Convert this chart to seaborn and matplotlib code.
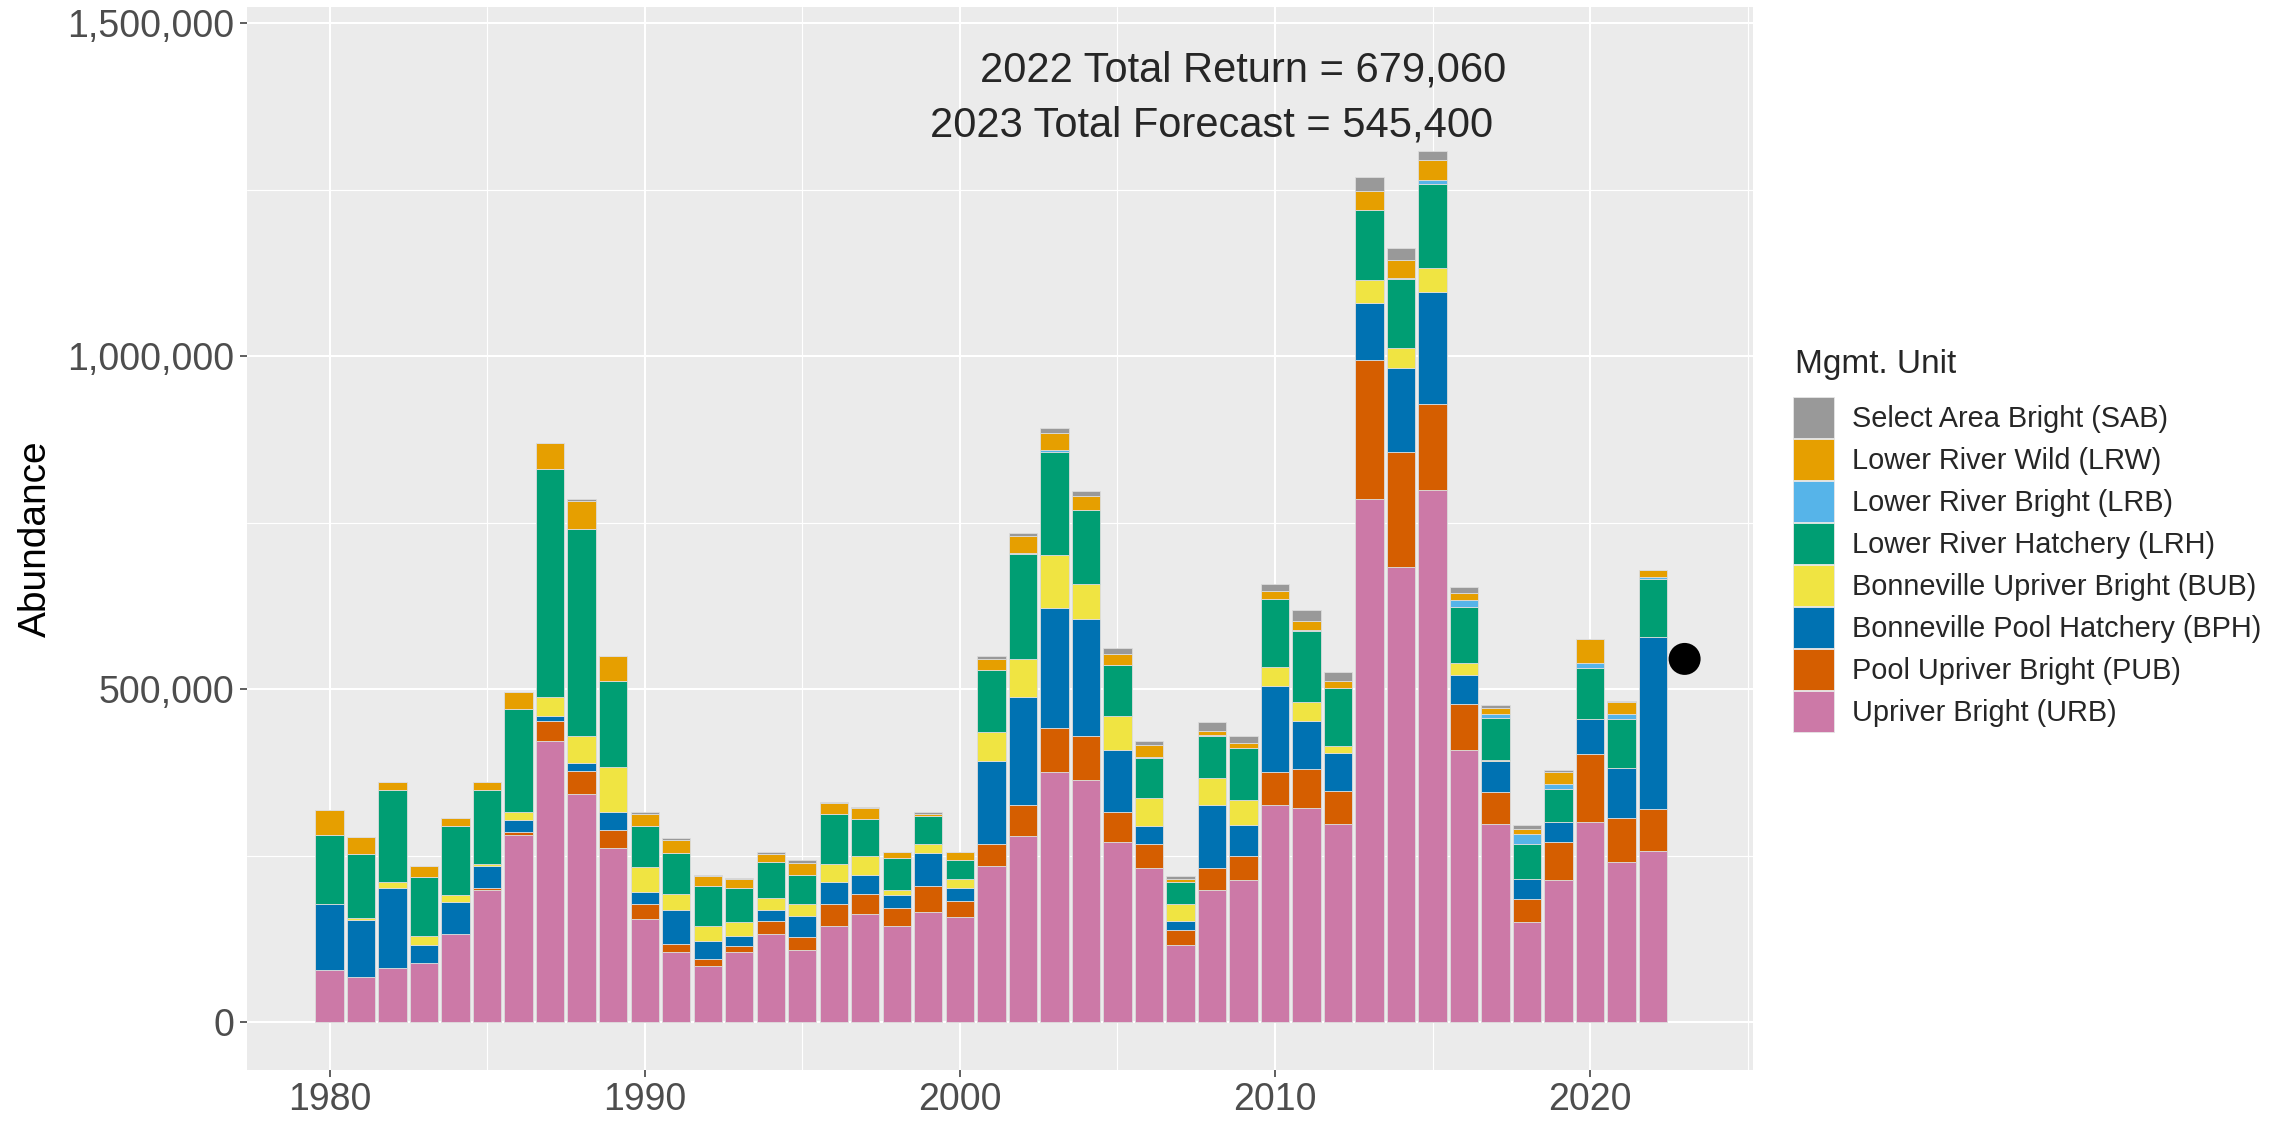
import numpy as np
import pandas as pd
import matplotlib
matplotlib.use("Agg")
import matplotlib.pyplot as plt
from matplotlib.patches import Patch
from matplotlib.ticker import FuncFormatter, MultipleLocator
import seaborn as sns

# Return years and management units (top of stack first, as in the legend)
years = list(range(1980, 2023))
units = ["Select Area Bright (SAB)", "Lower River Wild (LRW)", "Lower River Bright (LRB)",
         "Lower River Hatchery (LRH)", "Bonneville Upriver Bright (BUB)",
         "Bonneville Pool Hatchery (BPH)", "Pool Upriver Bright (PUB)", "Upriver Bright (URB)"]
unit_colors = ["#999999", "#E69F00", "#56B4E9", "#009E73", "#F0E442", "#0072B2", "#D55E00", "#CC79A7"]

# Abundance by unit, thousands of fish
urb = [78, 67, 81, 88, 133, 199, 281, 422, 342, 262,
       155, 105, 84, 105, 133, 108, 144, 163, 144, 166,
       158, 235, 279, 375, 364, 271, 232, 116, 199, 213,
       326, 322, 298, 785, 683, 799, 408, 298, 150, 213,
       301, 240, 257]
pub = [0, 0, 0, 0, 0, 2, 5, 30, 35, 27,
       22, 12, 10, 9, 19, 19, 33, 30, 28, 38,
       24, 33, 47, 66, 66, 44, 36, 22, 33, 36,
       49, 58, 49, 209, 173, 129, 69, 47, 35, 58,
       102, 66, 63]
bph = [99, 87, 121, 28, 47, 34, 17, 8, 12, 27,
       18, 51, 28, 16, 17, 33, 33, 28, 19, 50,
       19, 124, 162, 181, 176, 93, 27, 14, 94, 47,
       129, 72, 57, 86, 127, 168, 44, 47, 30, 30,
       52, 75, 259]
bub = [0, 3, 8, 14, 11, 3, 13, 28, 41, 67,
       38, 25, 22, 20, 17, 17, 27, 28, 8, 14,
       14, 43, 57, 80, 52, 52, 41, 25, 41, 38,
       30, 28, 11, 35, 30, 36, 19, 2, 0, 0,
       0, 0, 0]
lrh = [104, 96, 138, 88, 104, 110, 154, 343, 311, 129,
       61, 61, 61, 52, 55, 44, 75, 56, 47, 42,
       28, 94, 158, 154, 111, 77, 60, 33, 62, 77,
       102, 107, 86, 105, 103, 127, 83, 63, 53, 49,
       77, 74, 87]
lrb = [0, 0, 0, 0, 0, 0, 0, 0, 0, 0,
       0, 0, 0, 0, 0, 0, 0, 0, 0, 0,
       0, 0, 2, 3, 0, 0, 2, 0, 2, 0,
       0, 2, 0, 0, 1, 5, 11, 5, 14, 8,
       8, 8, 2]
lrw = [38, 25, 13, 17, 11, 13, 25, 38, 42, 38,
       19, 20, 15, 13, 12, 18, 17, 16, 9, 2,
       12, 17, 25, 25, 21, 16, 18, 5, 6, 8,
       11, 14, 11, 28, 28, 30, 11, 9, 8, 17,
       36, 17, 11]
sab = [0, 0, 0, 0, 0, 0, 0, 1, 2, 0,
       2, 2, 1, 1, 2, 5, 2, 2, 1, 3,
       1, 4, 4, 8, 8, 9, 6, 5, 13, 11,
       11, 16, 14, 21, 17, 14, 8, 5, 6, 3,
       0, 2, 0]

forecast_year = [2023]
forecast_value = [545400]

series = dict(zip(units, [sab, lrw, lrb, lrh, bub, bph, pub, urb]))
df = pd.concat([pd.DataFrame({"year": years, "unit": u, "abundance": np.array(v) * 1000})
                for u, v in series.items()], ignore_index=True)

sns.set_theme(style="darkgrid", rc={"axes.facecolor": "#EBEBEB"})
plt.rcParams["font.family"] = ["Liberation Sans", "DejaVu Sans"]

W, H = 2282, 1122
fig = plt.figure(figsize=(W / 100, H / 100), dpi=100)
ax = fig.add_axes([247 / W, 1 - 1070 / H, (1753 - 247) / W, (1070 - 7) / H])

sns.histplot(data=df, x="year", weights="abundance", hue="unit", hue_order=units,
             palette=dict(zip(units, unit_colors)), multiple="stack", discrete=True,
             shrink=0.9, alpha=1, edgecolor="#dcdcdc", linewidth=0.6, legend=False, ax=ax)
sns.scatterplot(x=forecast_year, y=forecast_value, color="black", s=530,
                edgecolor="none", zorder=4, ax=ax)

ax.set_xlim(1977.38, 2025.17)
ax.set_ylim(-72000, 1524500)
ax.xaxis.set_major_locator(MultipleLocator(10))
ax.xaxis.set_minor_locator(MultipleLocator(5))
ax.yaxis.set_major_locator(MultipleLocator(500000))
ax.yaxis.set_minor_locator(MultipleLocator(250000))
ax.yaxis.set_major_formatter(FuncFormatter(lambda v, p: f"{int(v):,}"))
ax.grid(which="major", color="white", linewidth=1.5)
ax.grid(which="minor", color="white", linewidth=0.8)
ax.tick_params(which="major", bottom=True, left=True, length=5, width=1.1, color="#333333",
               labelsize=27, labelcolor="#4D4D4D", pad=4)
ax.tick_params(which="minor", length=0)
for s in ax.spines.values():
    s.set_visible(False)

ax.set_xlabel("")
ax.set_ylabel("Abundance", fontsize=28, color="black", labelpad=10)

ax.text(2009, 1412000, "2022 Total Return = 679,060", ha="center", va="baseline", fontsize=30)
ax.text(2008, 1330000, "2023 Total Forecast = 545,400", ha="center", va="baseline", fontsize=30)

# Legend: square keys ~41 px, stacked with almost no gap
handles = [Patch(facecolor=c, edgecolor="#e6e6e6", linewidth=0.6, label=u)
           for u, c in zip(units, unit_colors)]
fig.legend(handles=handles, loc="upper left", bbox_to_anchor=(1793 / W, 1 - 397 / H),
           frameon=False, fontsize=20.8, handlelength=1.42, handleheight=1.806,
           labelspacing=0.035, handletextpad=0.62, borderpad=0, borderaxespad=0)
fig.text(1795 / W, 1 - 365 / H, "Mgmt. Unit", fontsize=24, ha="left", va="center")

fig.savefig("out.png", dpi=100)
